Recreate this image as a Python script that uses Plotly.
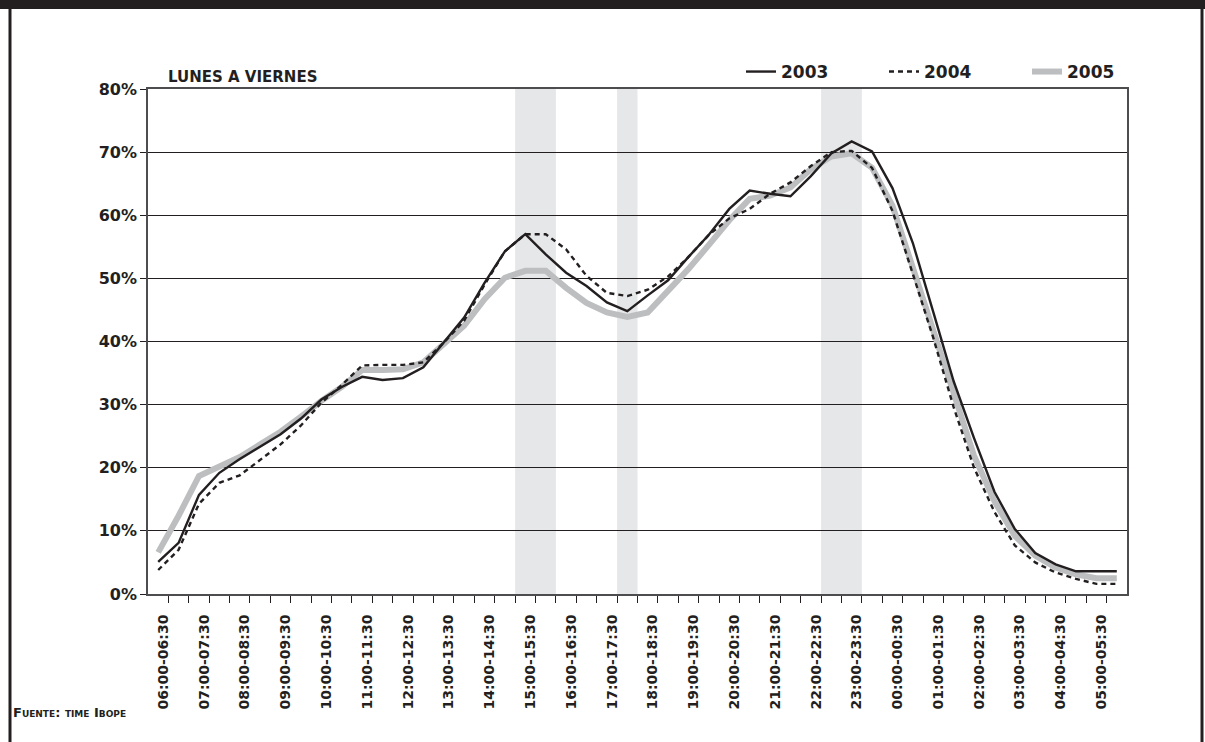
import plotly.graph_objects as go

# ---- data -------------------------------------------------------------
hour_labels = [
    "06:00-06:30", "07:00-07:30", "08:00-08:30", "09:00-09:30", "10:00-10:30",
    "11:00-11:30", "12:00-12:30", "13:00-13:30", "14:00-14:30", "15:00-15:30",
    "16:00-16:30", "17:00-17:30", "18:00-18:30", "19:00-19:30", "20:00-20:30",
    "21:00-21:30", "22:00-22:30", "23:00-23:30", "00:00-00:30", "01:00-01:30",
    "02:00-02:30", "03:00-03:30", "04:00-04:30", "05:00-05:30",
]
# one value per half-hour slot, 06:00 ... 05:30 (48 slots)
s2003 = [5.1, 8.1, 15.7, 19.2, 21.4, 23.3, 25.3, 27.8, 30.8, 32.8,
         34.4, 33.9, 34.2, 35.9, 39.8, 43.8, 49.3, 54.3, 57.0, 53.8,
         50.9, 48.8, 46.2, 44.8, 47.3, 49.7, 53.4, 56.9, 61.0, 63.9,
         63.4, 63.0, 66.2, 69.8, 71.7, 70.1, 64.3, 55.6, 44.7, 33.7,
         24.7, 16.2, 10.3, 6.5, 4.7, 3.6, 3.6, 3.6]
s2004 = [3.8, 7.0, 14.3, 17.6, 18.8, 21.2, 23.7, 26.7, 30.3, 33.1,
         36.2, 36.3, 36.3, 36.7, 39.8, 43.3, 49.0, 54.3, 57.0, 57.0,
         54.6, 50.4, 47.7, 47.2, 48.2, 50.3, 53.4, 56.9, 59.5, 61.0,
         63.4, 65.2, 67.8, 70.0, 70.2, 67.5, 60.7, 50.7, 40.6, 29.6,
         20.0, 13.0, 7.7, 5.0, 3.4, 2.4, 1.6, 1.6]
s2005 = [6.6, 12.4, 18.7, 20.2, 21.7, 23.7, 25.7, 28.1, 30.6, 32.8,
         35.5, 35.5, 35.6, 36.7, 39.5, 42.5, 46.7, 50.1, 51.2, 51.2,
         48.5, 46.1, 44.6, 43.9, 44.6, 47.9, 51.5, 55.3, 59.2, 62.6,
         63.1, 64.4, 67.3, 69.3, 69.8, 67.5, 61.5, 51.7, 41.6, 31.4,
         21.9, 14.7, 9.2, 6.1, 4.2, 3.1, 2.5, 2.5]
# shaded bands: first and last half-hour slot index
shaded_slots = [(18, 19), (23, 23), (33, 34)]
y_ticks = [0, 10, 20, 30, 40, 50, 60, 70, 80]

# ---- layout geometry ---------------------------------------------------
W, H = 1205, 742
ML, MR, MT, MB = 148, 78, 89, 148
PW, PH = W - ML - MR, H - MT - MB


def px_x(px):
    return (px - ML) / PW


def px_y(py):
    return (H - MB - py) / PH


INK = "#231f20"
GRAY = "#bcbec0"
BAND = "#e6e7e8"
FONT = "DejaVu Sans"

n = len(s2003)
xs = list(range(n))

fig = go.Figure()
fig.add_trace(go.Scatter(x=xs, y=s2005, mode="lines", name="2005",
                         line=dict(color=GRAY, width=6), legendrank=3))
fig.add_trace(go.Scatter(x=xs, y=s2004, mode="lines", name="2004",
                         line=dict(color=INK, width=2.4, dash="5px,4px"),
                         legendrank=2))
fig.add_trace(go.Scatter(x=xs, y=s2003, mode="lines", name="2003",
                         xaxis="x2",
                         line=dict(color=INK, width=2.4), legendrank=1))

shapes = []
for a, b in shaded_slots:
    shapes.append(dict(type="rect", xref="x", yref="paper", x0=a - 0.5,
                       x1=b + 0.5, y0=0, y1=1, fillcolor=BAND,
                       line=dict(width=0), layer="below"))
# page frame: dark header bar and side rules
shapes.append(dict(type="rect", xref="paper", yref="paper", x0=px_x(0),
                   x1=px_x(W), y0=px_y(9), y1=px_y(0), fillcolor=INK,
                   line=dict(width=0)))
shapes.append(dict(type="line", xref="paper", yref="paper", x0=px_x(10),
                   x1=px_x(10), y0=px_y(9), y1=px_y(H), line=dict(color=INK, width=3)))
shapes.append(dict(type="line", xref="paper", yref="paper", x0=px_x(1202),
                   x1=px_x(1202), y0=px_y(9), y1=px_y(H), line=dict(color=INK, width=3)))

annotations = [
    dict(text="LUNES A VIERNES", xref="paper", yref="paper", x=px_x(166),
         y=px_y(77), xanchor="left", yanchor="middle", showarrow=False,
         font=dict(family=FONT, size=15, color=INK, weight=700)),
    dict(text="Fuente: time Ibope", xref="paper", yref="paper", x=px_x(11),
         y=px_y(712), xanchor="left", yanchor="middle", showarrow=False,
         font=dict(family=FONT, size=13, color=INK, weight=700,
                   variant="small-caps")),
]

fig.update_layout(
    width=W, height=H, autosize=False,
    margin=dict(l=ML, r=MR, t=MT, b=MB, pad=0),
    paper_bgcolor="white", plot_bgcolor="white",
    showlegend=True,
    legend=dict(orientation="h", x=px_x(1170), xanchor="right", y=px_y(72),
                yanchor="middle", bgcolor="rgba(0,0,0,0)",
                font=dict(family=FONT, size=17, color=INK, weight=700),
                entrywidth=98, entrywidthmode="pixels"),
    shapes=shapes,
    annotations=annotations,
    xaxis=dict(range=[-0.5, n - 0.5], tickmode="array",
               tickvals=[i + 0.5 for i in range(n - 1)],
               ticks="outside", ticklen=7, tickwidth=1.2, tickcolor=INK,
               showticklabels=False, showgrid=False, zeroline=False,
               showline=True, linecolor="#4d4d4f", linewidth=1.6, mirror=True),
    xaxis2=dict(overlaying="x", anchor="y", side="bottom",
                range=[-0.5, n - 0.5], tickmode="array",
                tickvals=[2 * k + 0.25 for k in range(len(hour_labels))],
                ticktext=hour_labels, tickangle=-90,
                ticks="outside", ticklen=14, tickcolor="rgba(0,0,0,0)",
                showgrid=False, zeroline=False, showline=False,
                tickfont=dict(family=FONT, size=14, color=INK, weight=700)),
    yaxis=dict(range=[0, 80], tickmode="array", tickvals=y_ticks,
               ticktext=[f"{v}%" for v in y_ticks],
               ticks="outside", ticklen=6, tickwidth=1.2, tickcolor=INK,
               showgrid=True, gridcolor=INK, gridwidth=1.2, zeroline=False,
               showline=True, linecolor="#4d4d4f", linewidth=1.6, mirror=True,
               tickfont=dict(family=FONT, size=16, color=INK, weight=700)),
)

fig.write_html("out.html", config={"displayModeBar": False},
               post_script="document.body.style.margin='0';")
